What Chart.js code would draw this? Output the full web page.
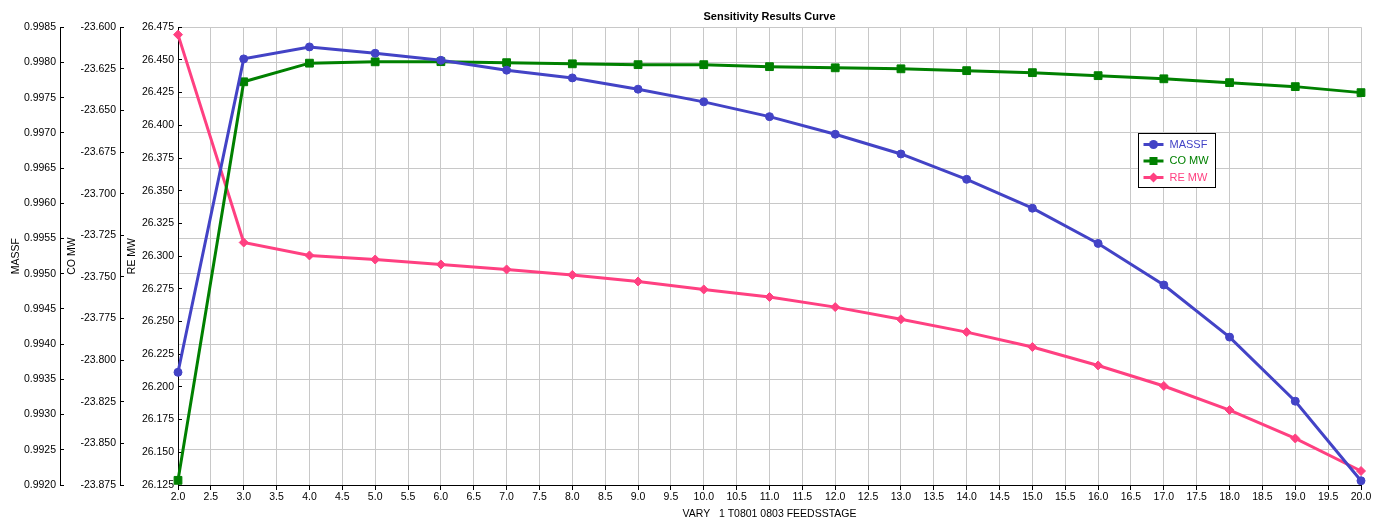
<!DOCTYPE html>
<html>
<head>
<meta charset="utf-8">
<title>Sensitivity Results Curve</title>
<script src="https://cdn.jsdelivr.net/npm/chart.js@4.4.1/dist/chart.umd.min.js"></script>
<style>
  html, body { margin: 0; padding: 0; background: #ffffff; }
  #grafico { display: block; }
</style>
</head>
<body>
<canvas id="grafico" width="1375" height="528"></canvas>
<script>
// datos
const etapas = [2, 3, 4, 5, 6, 7, 8, 9, 10, 11, 12, 13, 14, 15, 16, 17, 18, 19, 20];
const massf = [0.99360, 0.99805, 0.99822, 0.99813, 0.99803, 0.99789, 0.99778, 0.99762, 0.99744,
  0.99723, 0.99698, 0.99670, 0.99634, 0.99593, 0.99543, 0.99484, 0.99410, 0.99319, 0.99206];
const coMw = [-23.8722, -23.6328, -23.6216, -23.6208, -23.6207, -23.6213, -23.6220, -23.6225, -23.6225,
  -23.6237, -23.6244, -23.6250, -23.6261, -23.6273, -23.6291, -23.6310, -23.6333, -23.6357, -23.6393];
const reMw = [26.4693, 26.3104, 26.3005, 26.2974, 26.2936, 26.2898, 26.2856, 26.2806, 26.2745,
  26.2687, 26.2610, 26.2517, 26.2419, 26.2305, 26.2164, 26.2007, 26.1823, 26.1606, 26.1357];

const nombres = ["MASSF", "CO MW", "RE MW"];
const colores = ["#4343c6", "#008000", "#ff4081"];

// rangos de los ejes
const ejeX = [2, 20, 0.5];
const ejeMassf = [0.992, 0.9985, 0.0005];
const ejeCo = [-23.875, -23.6, 0.025];
const ejeRe = [26.125, 26.475, 0.025];

const fuente = "'Liberation Sans', Arial, sans-serif";
Chart.defaults.font.family = fuente;
Chart.defaults.font.size = 10.5;
Chart.defaults.color = "#000000";

const puntos = (valores) => etapas.map((x, i) => ({ x: x, y: valores[i] }));

const ejeY = (rango, titulo, decimales, peso, ancho, pad, conGrilla) => ({
  type: "linear",
  position: "left",
  weight: peso,
  min: rango[0],
  max: rango[1],
  afterFit: (scale) => { scale.width = ancho; },
  border: { display: true, color: "#000000", width: 1 },
  grid: {
    drawOnChartArea: conGrilla,
    color: "#c8c8c8",
    tickColor: "#000000",
    tickLength: -4
  },
  ticks: {
    stepSize: rango[2],
    padding: 8,
    autoSkip: false,
    callback: (v) => Number(v).toFixed(decimales)
  },
  title: { display: true, text: titulo, padding: { top: pad, bottom: 0 } }
});

// leyenda dibujada dentro del area
const leyenda = {
  id: "leyenda",
  afterDraw(chart) {
    const c = chart.ctx;
    const x0 = 1138.5, y0 = 133.5;
    c.save();
    c.fillStyle = "#ffffff";
    c.fillRect(x0, y0, 77, 54);
    c.strokeStyle = "#000000";
    c.lineWidth = 1;
    c.strokeRect(x0, y0, 77, 54);
    chart.data.datasets.forEach((ds, i) => {
      const y = y0 + 11 + i * 16.5;
      c.strokeStyle = ds.borderColor;
      c.fillStyle = ds.borderColor;
      c.lineWidth = 3;
      c.beginPath();
      c.moveTo(x0 + 5, y);
      c.lineTo(x0 + 25, y);
      c.stroke();
      const mx = x0 + 15;
      c.beginPath();
      if (ds.pointStyle === "circle") {
        c.arc(mx, y, 4.5, 0, Math.PI * 2);
      } else if (ds.pointStyle === "rect") {
        c.rect(mx - 4, y - 4, 8, 8);
      } else {
        c.moveTo(mx - 5, y); c.lineTo(mx, y - 5); c.lineTo(mx + 5, y); c.lineTo(mx, y + 5);
        c.closePath();
      }
      c.fill();
      c.font = "11px " + fuente;
      c.textBaseline = "middle";
      c.fillText(ds.label, x0 + 31, y);
    });
    c.restore();
  }
};

new Chart(document.getElementById("grafico"), {
  type: "line",
  data: {
    datasets: [
      {
        label: nombres[0],
        data: puntos(massf),
        yAxisID: "yMassf",
        borderColor: colores[0],
        backgroundColor: colores[0],
        borderWidth: 3,
        pointStyle: "circle",
        pointRadius: 4,
        pointBorderWidth: 1,
        clip: false
      },
      {
        label: nombres[1],
        data: puntos(coMw),
        yAxisID: "yCo",
        borderColor: colores[1],
        backgroundColor: colores[1],
        borderWidth: 3,
        pointStyle: "rect",
        pointRadius: 5.5,
        pointBorderWidth: 1,
        clip: false
      },
      {
        label: nombres[2],
        data: puntos(reMw),
        yAxisID: "yRe",
        borderColor: colores[2],
        backgroundColor: colores[2],
        borderWidth: 3,
        pointStyle: "rectRot",
        pointRadius: 4.5,
        pointBorderWidth: 1,
        clip: false
      }
    ]
  },
  options: {
    responsive: false,
    animation: false,
    devicePixelRatio: 1,
    layout: { padding: { left: 0, right: 14, top: 0, bottom: 0 } },
    plugins: {
      legend: { display: false },
      tooltip: { enabled: false },
      title: {
        display: true,
        text: "Sensitivity Results Curve",
        fullSize: false,
        font: { size: 11, weight: "bold" },
        padding: { top: 10, bottom: 4 }
      }
    },
    scales: {
      x: {
        type: "linear",
        min: ejeX[0],
        max: ejeX[1],
        afterFit: (scale) => { scale.height = 43; },
        border: { display: true, color: "#000000", width: 1 },
        grid: { color: "#c8c8c8", tickColor: "#000000", tickLength: 5 },
        ticks: {
          stepSize: ejeX[2],
          padding: 1,
          autoSkip: false,
          maxRotation: 0,
          callback: (v) => Number(v).toFixed(1)
        },
        title: {
          display: true,
          text: "VARY   1 T0801 0803 FEEDSSTAGE",
          padding: { top: 0, bottom: 8 }
        }
      },
      yMassf: ejeY(ejeMassf, "MASSF", 4, 3, 60, 10, true),
      yCo: ejeY(ejeCo, "CO MW", 3, 2, 60, 5.5, false),
      yRe: ejeY(ejeRe, "RE MW", 3, 1, 58, 5.5, false)
    }
  },
  plugins: [leyenda]
});
</script>
</body>
</html>
